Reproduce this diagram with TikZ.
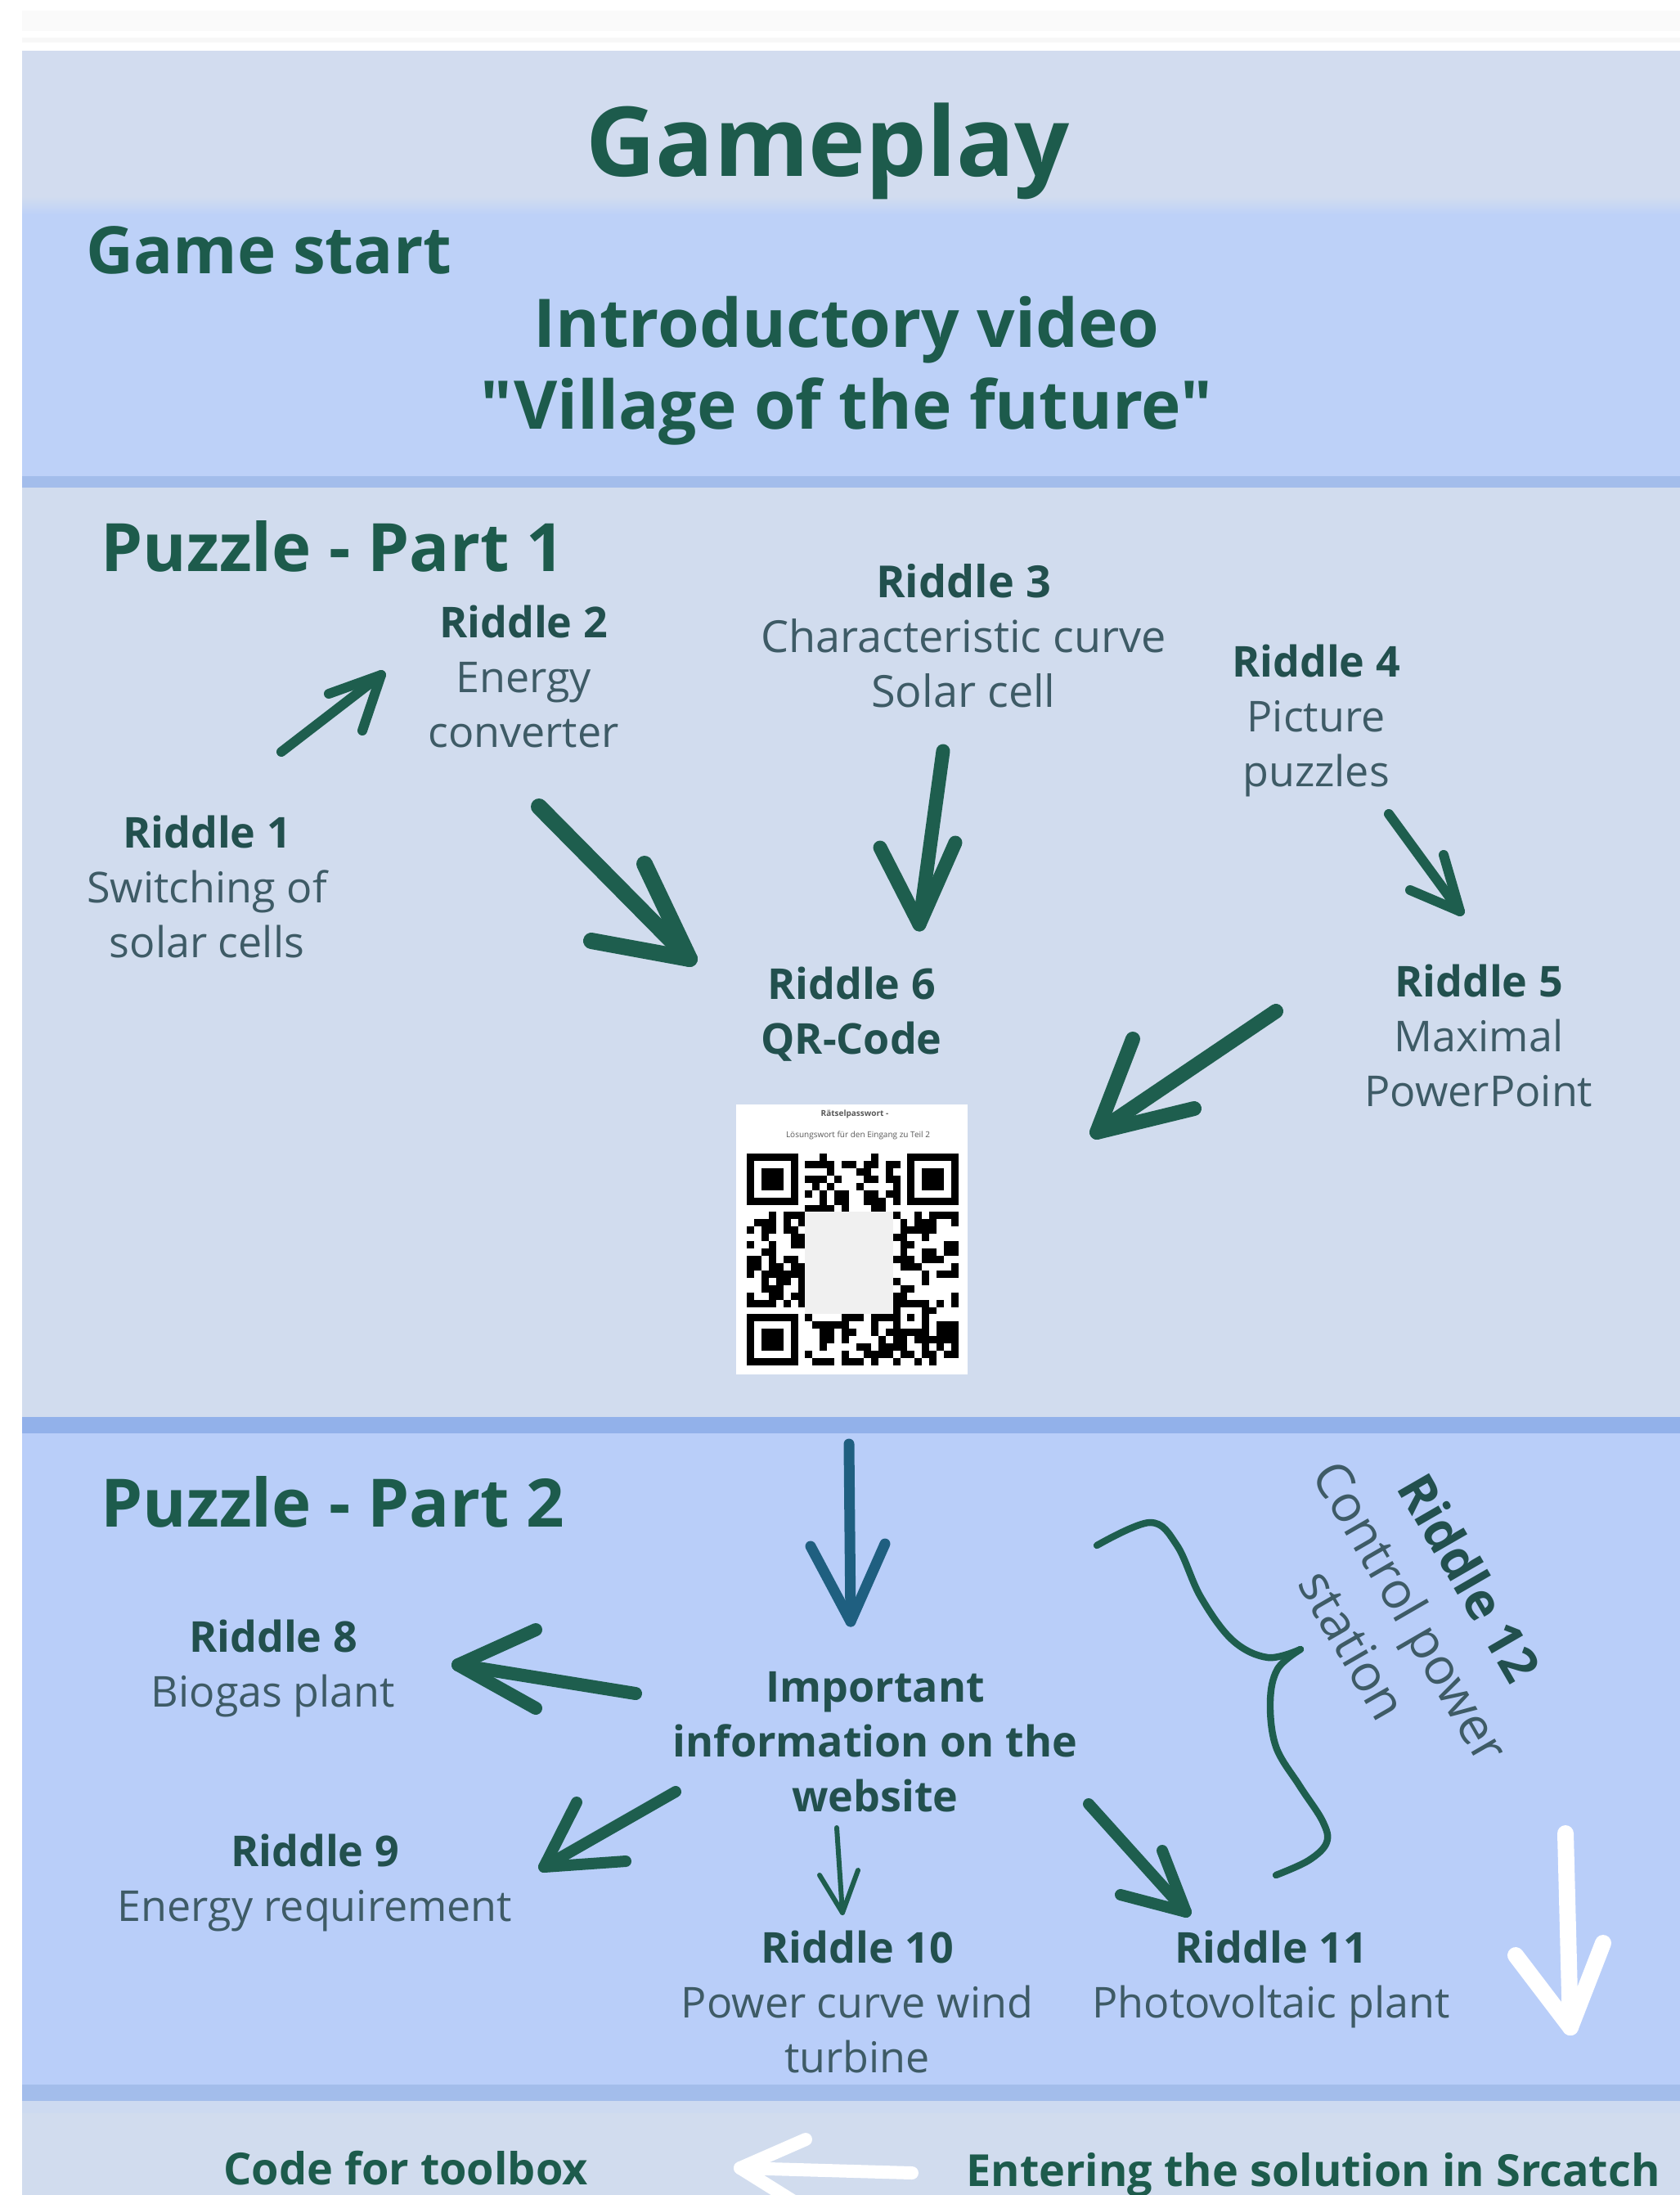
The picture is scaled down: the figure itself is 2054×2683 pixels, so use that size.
\documentclass[tikz,border=0pt]{standalone}
\usepackage{fontspec}
\setmainfont{Open Sans}
\newfontfamily\qfont{Open Sans}
\definecolor{bandTitle}{HTML}{D2DCEF}
\definecolor{bandStart}{HTML}{BDD1F8}
\definecolor{bandOne}{HTML}{D1DCEE}
\definecolor{bandTwo}{HTML}{B9CEF9}
\definecolor{stripA}{HTML}{A3BDEB}
\definecolor{stripB}{HTML}{92B1EA}
\definecolor{headcol}{HTML}{1D5B4C}
\definecolor{ridcol}{HTML}{22504E}
\definecolor{bodycol}{HTML}{3E5B66}
\definecolor{arrgreen}{HTML}{1E5E4E}
\definecolor{arrblue}{HTML}{1F5F80}
\newcommand\ridt[1]{{\color{ridcol}\bfseries #1}}
\newcommand\handarrow[6]{%
  \coordinate (#6t) at #2; \coordinate (#6h) at #3;
  \coordinate (#6a) at #4; \coordinate (#6b) at #5;
  \draw[#1] (#6t) -- (#6h);
  \draw[#1] (#6a) -- (#6h) -- (#6b);}
\tikzset{
  gar/.style={draw=arrgreen, line width=#1, line cap=round, line join=round},
  bar/.style={draw=arrblue, line width=#1, line cap=round, line join=round},
  war/.style={draw=white, line width=#1, line cap=round, line join=round},
  riddle/.style={align=center, anchor=north, inner sep=0pt,
    font=\fontsize{26}{33.5}\selectfont, text=bodycol},
  bighead/.style={inner sep=0pt, font=\bfseries\fontsize{40}{50}\selectfont, text=headcol},
}
\begin{document}
\begin{tikzpicture}[x=0.5pt,y=-0.5pt]
\useasboundingbox (0,0) rectangle (2054,2683);
\clip (0,0) rectangle (2054,2683);
% background bands
\fill[white] (0,0) rectangle (2054,2683);
\fill[gray!4] (27,13) rectangle (2054,38);
\fill[gray!6] (27,46) rectangle (2054,52);
\fill[bandTitle] (27,62) rectangle (2054,250);
\shade[top color=bandTitle, bottom color=bandStart] (27,240) rectangle (2054,262);
\fill[bandStart] (27,262) rectangle (2054,582);
\fill[stripA] (27,582) rectangle (2054,596);
\fill[bandOne] (27,596) rectangle (2054,1732);
\fill[stripB] (27,1732) rectangle (2054,1752);
\fill[bandTwo] (27,1752) rectangle (2054,2548);
\fill[stripA] (27,2548) rectangle (2054,2568);
\fill[bandOne!80!bandStart] (27,2568) rectangle (2054,2583);
\fill[bandOne] (27,2583) rectangle (2054,2683);

% headings
\node (title) [inner sep=0pt, anchor=base, font=\bfseries\fontsize{59}{70}\selectfont, text=headcol] at (1012,215) {Gameplay};
\node (start) [bighead, anchor=base west] at (105,334) {Game start};
\node (intro) [bighead, align=center, anchor=north, font=\qfont\bfseries\fontsize{41}{50}\selectfont] at (1035,362) {Introductory video\\"Village of the future"};
\node (part1) [bighead, anchor=base west, font=\bfseries\fontsize{40.8}{50}\selectfont] at (123,698) {Puzzle - Part 1};
\node (part2) [bighead, anchor=base west, font=\bfseries\fontsize{40.8}{50}\selectfont] at (123,1866) {Puzzle - Part 2};

% riddles part 1
\node (r1) [riddle] at (253,997) {\ridt{Riddle 1}\\Switching of\\solar cells};
\node (r2) [riddle] at (640,740) {\ridt{Riddle 2}\\Energy\\converter};
\node (r3) [riddle, font=\fontsize{27}{33.5}\selectfont] at (1178,689) {\ridt{Riddle 3}\\Characteristic curve\\Solar cell};
\node (r4) [riddle] at (1609,788) {\ridt{Riddle 4}\\Picture\\puzzles};
\node (r5) [riddle] at (1808,1179) {\ridt{Riddle 5}\\Maximal\\PowerPoint};
\node (r6) [riddle] at (1041,1182) {\ridt{Riddle 6}\\\ridt{QR-Code}};

% QR code
\node (qr) [fill=white, minimum width=141.5pt, minimum height=165pt, inner sep=0pt, anchor=north west] at (900,1350) {};
\node (qrt1) [inner sep=0pt, font=\bfseries\fontsize{5}{6}\selectfont, text=black!65] at (1045,1362) {Rätselpasswort -};
\node (qrt2) [inner sep=0pt, font=\fontsize{5}{6}\selectfont, text=black!65] at (1049,1388) {Lösungswort für den Eingang zu Teil 2};
\begin{scope}[shift={(913,1410)}, x=4.465pt, y=-4.465pt]
  \pgfmathsetseed{11}
  \fill[gray!12] (8,8) rectangle (20,22);
  \foreach \i in {0,...,28}{
    \foreach \j in {0,...,28}{
      \pgfmathtruncatemacro{\qrskip}{((\i<8)&&(\j<8)) || ((\i>20)&&(\j<8)) || ((\i<8)&&(\j>20)) || ((\i>7)&&(\i<20)&&(\j>7)&&(\j<22)) || ((\i>19)&&(\i<25)&&(\j>19)&&(\j<25))}
      \ifnum\qrskip=0
        \pgfmathtruncatemacro{\qrbit}{rnd<0.5}
        \ifnum\qrbit=1 \fill[black] (\i,\j) rectangle ++(1,1); \fi
      \fi
    }
  }
  \foreach \ox/\oy in {0/0,22/0,0/22}{
    \fill[black] (\ox,\oy) rectangle ++(7,7);
    \fill[white] (\ox+1,\oy+1) rectangle ++(5,5);
    \fill[black] (\ox+2,\oy+2) rectangle ++(3,3);
  }
  \fill[black] (20,20) rectangle ++(5,5);
  \fill[white] (21,21) rectangle ++(3,3);
  \fill[black] (22,22) rectangle ++(1,1);
\end{scope}

% part 1 arrows
\handarrow{gar=6pt}{(344,919)}{(466,825)}{(402,848)}{(443,893)}{a1}
\handarrow{gar=10pt}{(659,986)}{(843,1172)}{(788,1056)}{(723,1150)}{a2}
\handarrow{gar=8.5pt}{(1153,918)}{(1124,1130)}{(1076,1036)}{(1168,1030)}{a3}
\handarrow{gar=6pt}{(1698,995)}{(1785,1114)}{(1765,1045)}{(1724,1088)}{a4}
\handarrow{gar=9pt}{(1560,1236)}{(1341,1384)}{(1385,1270)}{(1460,1355)}{a5}

% part 2
\handarrow{bar=6.5pt}{(1038,1765)}{(1040,1982)}{(991,1890)}{(1082,1887)}{a6}
\node (info) [riddle, text=ridcol, font=\bfseries\fontsize{26}{33.5}\selectfont] at (1070,2043) {Important\\information on the\\website};
\node (r8) [riddle] at (334,1980) {\ridt{Riddle 8}\\Biogas plant};
\node (r9) [riddle] at (385,2242) {\ridt{Riddle 9}\\Energy requirement};
\node (r10) [riddle] at (1048,2360) {\ridt{Riddle 10}\\Power curve wind\\turbine};
\node (r11) [riddle] at (1554,2360) {\ridt{Riddle 11}\\Photovoltaic plant};
\node (r12) [rotate=-60, align=center, inner sep=0pt, font=\fontsize{31}{41}\selectfont, text=bodycol] at (1726,1969) {\ridt{Riddle 12}\\Control power\\station};

\handarrow{gar=8pt}{(777,2070)}{(560,2035)}{(655,1992)}{(655,2088)}{a7}
\handarrow{gar=7pt}{(826,2190)}{(665,2282)}{(705,2203)}{(765,2275)}{a8}
\handarrow{gar=3pt}{(1023,2234)}{(1030,2338)}{(1002,2292)}{(1049,2286)}{a9}
\handarrow{gar=7pt}{(1331,2205)}{(1450,2337)}{(1421,2262)}{(1370,2316)}{a10}

% brace for riddle 12
\draw[arrgreen, line width=4.2pt, line cap=round] plot[smooth, tension=0.6] coordinates {(1341,1889) (1406,1861) (1439,1889) (1468,1952) (1507,2005) (1550,2026) (1590,2016)};
\draw[arrgreen, line width=4.2pt, line cap=round] plot[smooth, tension=0.6] coordinates {(1590,2016) (1562,2040) (1553,2080) (1560,2135) (1589,2183) (1617,2226) (1622,2252) (1600,2274) (1560,2292)};

% white arrows
\handarrow{war=10pt}{(1914,2241)}{(1920,2478)}{(1853,2390)}{(1960,2375)}{a11}
\handarrow{war=8pt}{(1115,2656)}{(905,2650)}{(985,2615)}{(985,2700)}{a12}

% bottom texts
\node (code) [inner sep=0pt, anchor=base, font=\bfseries\fontsize{27}{34}\selectfont, text=headcol] at (496,2670) {Code for toolbox};
\node (enter) [inner sep=0pt, anchor=base west, font=\bfseries\fontsize{27}{34}\selectfont, text=headcol] at (1181,2672) {Entering the solution in Srcatch};
\end{tikzpicture}
\end{document}
